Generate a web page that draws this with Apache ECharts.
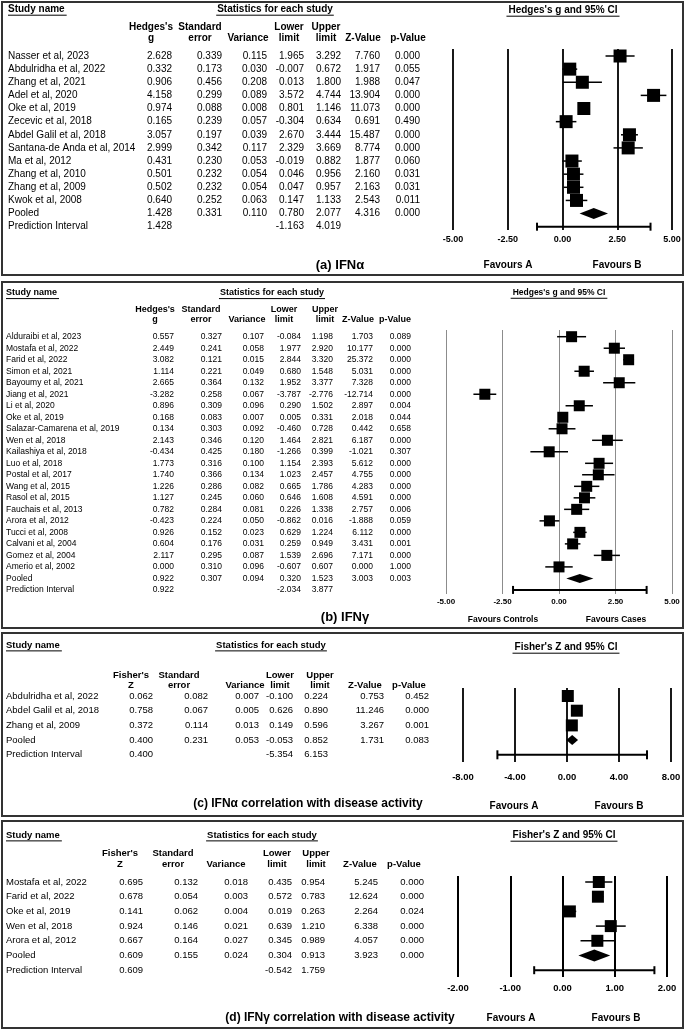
<!DOCTYPE html>
<html><head><meta charset="utf-8">
<script src="https://cdn.jsdelivr.net/npm/echarts@6/dist/echarts.min.js"></script>
<style>html,body{margin:0;padding:0;background:#fff}#c{width:685px;height:1030px}</style>
</head><body><div id="c"></div>
<script>
// ---------- (a) IFN-alpha ----------
const aStudies = ["Nasser et al, 2023","Abdulridha et al, 2022","Zhang et al, 2021","Adel et al, 2020","Oke et al, 2019","Zecevic et al, 2018","Abdel Galil et al, 2018","Santana-de Anda et al, 2014","Ma et al, 2012","Zhang et al, 2010","Zhang et al, 2009","Kwok et al, 2008","Pooled","Prediction Interval"];
const aEffect = [2.628,0.332,0.906,4.158,0.974,0.165,3.057,2.999,0.431,0.501,0.502,0.640,1.428,1.428];
const aSE = [0.339,0.173,0.456,0.299,0.088,0.239,0.197,0.342,0.230,0.232,0.232,0.252,0.331,null];
const aVar = [0.115,0.030,0.208,0.089,0.008,0.057,0.039,0.117,0.053,0.054,0.054,0.063,0.110,null];
const aLower = [1.965,-0.007,0.013,3.572,0.801,-0.304,2.670,2.329,-0.019,0.046,0.047,0.147,0.780,-1.163];
const aUpper = [3.292,0.672,1.800,4.744,1.146,0.634,3.444,3.669,0.882,0.956,0.957,1.133,2.077,4.019];
const aZ = [7.760,1.917,1.988,13.904,11.073,0.691,15.487,8.774,1.877,2.160,2.163,2.543,4.316,null];
const aP = [0.000,0.055,0.047,0.000,0.000,0.490,0.000,0.000,0.060,0.031,0.031,0.011,0.000,null];
const aTicks = [-5,-2.5,0,2.5,5];

// ---------- (b) IFN-gamma ----------
const bStudies = ["Alduraibi et al, 2023","Mostafa et al, 2022","Farid et al, 2022","Simon et al, 2021","Bayoumy et al, 2021","Jiang et al, 2021","Li et al, 2020","Oke et al, 2019","Salazar-Camarena et al, 2019","Wen et al, 2018","Kailashiya et al, 2018","Luo et al, 2018","Postal et al, 2017","Wang et al, 2015","Rasol et al, 2015","Fauchais et al, 2013","Arora et al, 2012","Tucci et al, 2008","Calvani et al, 2004","Gomez et al, 2004","Amerio et al, 2002","Pooled","Prediction Interval"];
const bEffect = [0.557,2.449,3.082,1.114,2.665,-3.282,0.896,0.168,0.134,2.143,-0.434,1.773,1.740,1.226,1.127,0.782,-0.423,0.926,0.604,2.117,0.000,0.922,0.922];
const bSE = [0.327,0.241,0.121,0.221,0.364,0.258,0.309,0.083,0.303,0.346,0.425,0.316,0.366,0.286,0.245,0.284,0.224,0.152,0.176,0.295,0.310,0.307,null];
const bVar = [0.107,0.058,0.015,0.049,0.132,0.067,0.096,0.007,0.092,0.120,0.180,0.100,0.134,0.082,0.060,0.081,0.050,0.023,0.031,0.087,0.096,0.094,null];
const bLower = [-0.084,1.977,2.844,0.680,1.952,-3.787,0.290,0.005,-0.460,1.464,-1.266,1.154,1.023,0.665,0.646,0.226,-0.862,0.629,0.259,1.539,-0.607,0.320,-2.034];
const bUpper = [1.198,2.920,3.320,1.548,3.377,-2.776,1.502,0.331,0.728,2.821,0.399,2.393,2.457,1.786,1.608,1.338,0.016,1.224,0.949,2.696,0.607,1.523,3.877];
const bZ = [1.703,10.177,25.372,5.031,7.328,-12.714,2.897,2.018,0.442,6.187,-1.021,5.612,4.755,4.283,4.591,2.757,-1.888,6.112,3.431,7.171,0.000,3.003,null];
const bP = [0.089,0.000,0.000,0.000,0.000,0.000,0.004,0.044,0.658,0.000,0.307,0.000,0.000,0.000,0.000,0.006,0.059,0.000,0.001,0.000,1.000,0.003,null];
const bTicks = [-5,-2.5,0,2.5,5];

// ---------- (c) IFN-alpha correlation ----------
const cStudies = ["Abdulridha et al, 2022","Abdel Galil et al, 2018","Zhang et al, 2009","Pooled","Prediction Interval"];
const cEffect = [0.062,0.758,0.372,0.400,0.400];
const cSE = [0.082,0.067,0.114,0.231,null];
const cVar = [0.007,0.005,0.013,0.053,null];
const cLower = [-0.100,0.626,0.149,-0.053,-5.354];
const cUpper = [0.224,0.890,0.596,0.852,6.153];
const cZ = [0.753,11.246,3.267,1.731,null];
const cP = [0.452,0.000,0.001,0.083,null];
const cTicks = [-8,-4,0,4,8];

// ---------- (d) IFN-gamma correlation ----------
const dStudies = ["Mostafa et al, 2022","Farid et al, 2022","Oke et al, 2019","Wen et al, 2018","Arora et al, 2012","Pooled","Prediction Interval"];
const dEffect = [0.695,0.678,0.141,0.924,0.667,0.609,0.609];
const dSE = [0.132,0.054,0.062,0.146,0.164,0.155,null];
const dVar = [0.018,0.003,0.004,0.021,0.027,0.024,null];
const dLower = [0.435,0.572,0.019,0.639,0.345,0.304,-0.542];
const dUpper = [0.954,0.783,0.263,1.210,0.989,0.913,1.759];
const dZ = [5.245,12.624,2.264,6.338,4.057,3.923,null];
const dP = [0.000,0.000,0.024,0.000,0.000,0.000,null];
const dTicks = [-2,-1,0,1,2];

const gHead = [["Hedges's","g"],["Standard","error"],["","Variance"],["Lower","limit"],["Upper","limit"],["","Z-Value"],["","p-Value"]];
const zHead = [["Fisher's","Z"],["Standard","error"],["","Variance"],["Lower","limit"],["Upper","limit"],["","Z-Value"],["","p-Value"]];

const FONT = "'Liberation Sans', Arial, Helvetica, sans-serif";

const panels = [
 {names:aStudies, eff:aEffect, cols:[aEffect,aSE,aVar,aLower,aUpper,aZ,aP], lo:aLower, hi:aUpper, ticks:aTicks, head:gHead,
  top:49, bottom:230, row0:56, step:13.13, fs:10, hfs:10, nameX:8, colR:[172,222,267,304,341,380,420], hcx:[151,200,248,289,326,363,408], hy:[27,38], shY:9, statsCx:275,
  plotL:453, plotR:672, ptitle:"Hedges's g and 95% CI", ptCx:563, ptY:10, ptFs:10, tickFs:9, tickMargin:5, split:{color:'#000',width:1.8},
  fav:["Favours A","Favours B"], favX:[508,617], favY:265, favFs:10, title:"(a) IFNα", titleX:340, titleY:265, titleFs:13,
  box:[2,2,683,275], sq:13, dh:11, cap:8, lw:1.5},
 {names:bStudies, eff:bEffect, cols:[bEffect,bSE,bVar,bLower,bUpper,bZ,bP], lo:bLower, hi:bUpper, ticks:bTicks, head:gHead,
  top:330, bottom:594, row0:336.7, step:11.51, fs:8.5, hfs:9, nameX:6, colR:[174,222,264,301,333,373,411], hcx:[155,201,247,284,325,358,395], hy:[310,320], shY:293, statsCx:272,
  plotL:446, plotR:672, ptitle:"Hedges's g and 95% CI", ptCx:559, ptY:293, ptFs:8.5, tickFs:8, tickMargin:4, split:{color:'#8c8c8c',width:1},
  fav:["Favours Controls","Favours Cases"], favX:[503,616], favY:620, favFs:8.5, title:"(b) IFNγ", titleX:345, titleY:617, titleFs:13,
  box:[2,282,683,628], sq:11, dh:9, cap:8, lw:1.5},
 {names:cStudies, eff:cEffect, cols:[cEffect,cSE,cVar,cLower,cUpper,cZ,cP], lo:cLower, hi:cUpper, ticks:cTicks, head:zHead,
  top:688, bottom:762, row0:696, step:14.7, fs:9.5, hfs:9.5, nameX:6, colR:[153,208,259,293,328,384,429], hcx:[131,179,245,280,320,365,409], hy:[675,685], shY:645, statsCx:271,
  plotL:463, plotR:671, ptitle:"Fisher's Z and 95% CI", ptCx:566, ptY:647, ptFs:10, tickFs:9.5, tickMargin:10, split:{color:'#000',width:1.8},
  fav:["Favours A","Favours B"], favX:[514,619], favY:806, favFs:10, title:"(c) IFNα correlation with disease activity", titleX:308, titleY:804, titleFs:12,
  box:[2,633,683,816], sq:12, dh:10, cap:9, lw:1.5},
 {names:dStudies, eff:dEffect, cols:[dEffect,dSE,dVar,dLower,dUpper,dZ,dP], lo:dLower, hi:dUpper, ticks:dTicks, head:zHead,
  top:876, bottom:977, row0:882, step:14.7, fs:9.5, hfs:9.5, nameX:6, colR:[143,198,248,292,325,378,424], hcx:[120,173,226,277,316,360,404], hy:[853,864], shY:835, statsCx:262,
  plotL:458, plotR:667, ptitle:"Fisher's Z and 95% CI", ptCx:564, ptY:835, ptFs:10, tickFs:9.5, tickMargin:6, split:{color:'#000',width:2},
  fav:["Favours A","Favours B"], favX:[511,616], favY:1018, favFs:10, title:"(d) IFNγ correlation with disease activity", titleX:340, titleY:1018, titleFs:12,
  box:[2,821,683,1028], sq:12, dh:12, cap:8, lw:1.5}
];

const W = 685, H = 1030;
const cv = document.createElement('canvas').getContext('2d');
function tw(t, size, bold){ cv.font = (bold?'bold ':'') + size + 'px ' + FONT; return cv.measureText(t).width; }

const grid = [], xAxis = [], yAxis = [], series = [], graphic = [];

function txt(t, x, y, size, opts){
  opts = opts || {};
  return {type:'text', x:x, y:y, silent:true, style:{text:t, fill:'#000', fontSize:size, fontWeight:opts.bold?'bold':'normal', fontFamily:FONT, align:opts.align||'left', verticalAlign:'middle'}};
}
function uline(x1, x2, y, w){
  return {type:'line', silent:true, shape:{x1:x1,y1:y,x2:x2,y2:y}, style:{stroke:'#000', lineWidth:w||1}};
}

panels.forEach(function(p){
  const n = p.names.length;
  const ymin = (p.top - p.row0)/p.step;
  const ymax = (n-1) + (p.bottom - (p.row0 + (n-1)*p.step))/p.step;
  const bot = H - p.bottom;
  // table grid
  const gT = grid.length;
  grid.push({left:0, right:0, top:p.top, bottom:bot});
  xAxis.push({gridIndex:gT, type:'value', min:0, max:W, show:false});
  yAxis.push({gridIndex:gT, type:'value', min:ymin, max:ymax, inverse:true, show:false});
  // plot grid
  const gP = grid.length;
  const t = p.ticks;
  grid.push({left:p.plotL, right:W - p.plotR, top:p.top, bottom:bot});
  xAxis.push({gridIndex:gP, type:'value', min:t[0], max:t[t.length-1], interval:t[1]-t[0],
    axisLine:{show:false}, axisTick:{show:false},
    axisLabel:{show:true, margin:p.tickMargin, fontSize:p.tickFs, fontWeight:'bold', color:'#000', fontFamily:FONT, formatter:function(v){return v.toFixed(2);}},
    splitLine:{show:true, lineStyle:{color:p.split.color, width:p.split.width}}});
  yAxis.push({gridIndex:gP, type:'value', min:ymin, max:ymax, inverse:true, show:false});

  // table series
  const rows = p.names.map(function(_, i){ return [0, i]; });
  series.push({type:'custom', xAxisIndex:gT, yAxisIndex:gT, silent:true, data:rows,
    renderItem:function(params, api){
      const i = params.dataIndex;
      const y = api.coord([0, api.value(1)])[1];
      const ch = [{type:'text', x:p.nameX, y:y, style:{text:p.names[i], fill:'#000', fontSize:p.fs, fontFamily:FONT, align:'left', verticalAlign:'middle'}}];
      p.cols.forEach(function(col, j){
        const v = col[i];
        if (v === null || v === undefined) return;
        const x = api.coord([p.colR[j], 0])[0];
        ch.push({type:'text', x:x, y:y, style:{text:v.toFixed(3), fill:'#000', fontSize:p.fs, fontFamily:FONT, align:'right', verticalAlign:'middle'}});
      });
      return {type:'group', children:ch};
    }});

  // forest series
  const fd = p.eff.map(function(g, i){ return [g, i, p.lo[i], p.hi[i], i < n-2 ? 0 : (i === n-2 ? 1 : 2)]; });
  series.push({type:'custom', xAxisIndex:gP, yAxisIndex:gP, silent:true, data:fd, clip:false,
    renderItem:function(params, api){
      const g = api.value(0), r = api.value(1), lo = api.value(2), hi = api.value(3), k = api.value(4);
      const c = api.coord([g, r]), l = api.coord([lo, r]), h = api.coord([hi, r]);
      const y = c[1];
      if (k === 0) {
        return {type:'group', children:[
          {type:'line', shape:{x1:l[0],y1:y,x2:h[0],y2:y}, style:{stroke:'#000', lineWidth:p.lw}},
          {type:'rect', shape:{x:c[0]-p.sq/2, y:y-p.sq/2, width:p.sq, height:p.sq}, style:{fill:'#000'}}
        ]};
      } else if (k === 1) {
        return {type:'polygon', shape:{points:[[l[0],y],[c[0],y-p.dh/2],[h[0],y],[c[0],y+p.dh/2]]}, style:{fill:'#000'}};
      } else {
        return {type:'group', children:[
          {type:'line', shape:{x1:l[0],y1:y,x2:h[0],y2:y}, style:{stroke:'#000', lineWidth:2}},
          {type:'line', shape:{x1:l[0],y1:y-p.cap/2,x2:l[0],y2:y+p.cap/2}, style:{stroke:'#000', lineWidth:2}},
          {type:'line', shape:{x1:h[0],y1:y-p.cap/2,x2:h[0],y2:y+p.cap/2}, style:{stroke:'#000', lineWidth:2}}
        ]};
      }
    }});

  // box
  const b = p.box;
  graphic.push({type:'rect', silent:true, shape:{x:b[0], y:b[1], width:b[2]-b[0], height:b[3]-b[1]}, style:{fill:'none', stroke:'#333', lineWidth:2}});
  // headers
  graphic.push(txt('Study name', p.nameX, p.shY, p.hfs, {bold:true}));
  graphic.push(uline(p.nameX, p.nameX + tw('Study name', p.hfs, true) + 2, p.shY + p.hfs*0.62));
  const st = 'Statistics for each study';
  const stw = tw(st, p.hfs, true);
  graphic.push(txt(st, p.statsCx, p.shY, p.hfs, {bold:true, align:'center'}));
  graphic.push(uline(p.statsCx - stw/2 - 1, p.statsCx + stw/2 + 1, p.shY + p.hfs*0.62));
  p.head.forEach(function(hh, j){
    if (hh[0]) graphic.push(txt(hh[0], p.hcx[j], p.hy[0], p.hfs, {bold:true, align:'center'}));
    if (hh[1]) graphic.push(txt(hh[1], p.hcx[j], p.hy[1], p.hfs, {bold:true, align:'center'}));
  });
  // plot title
  const ptw = tw(p.ptitle, p.ptFs, true);
  graphic.push(txt(p.ptitle, p.ptCx, p.ptY, p.ptFs, {bold:true, align:'center'}));
  graphic.push(uline(p.ptCx - ptw/2 - 2, p.ptCx + ptw/2 + 2, p.ptY + p.ptFs*0.62));
  // favours
  graphic.push(txt(p.fav[0], p.favX[0], p.favY, p.favFs, {bold:true, align:'center'}));
  graphic.push(txt(p.fav[1], p.favX[1], p.favY, p.favFs, {bold:true, align:'center'}));
  // panel title
  graphic.push(txt(p.title, p.titleX, p.titleY, p.titleFs, {bold:true, align:'center'}));
});

const chart = echarts.init(document.getElementById('c'), null, {renderer:'canvas', width:W, height:H});
chart.setOption({animation:false, backgroundColor:'#fff', grid:grid, xAxis:xAxis, yAxis:yAxis, series:series, graphic:graphic});
</script></body></html>
